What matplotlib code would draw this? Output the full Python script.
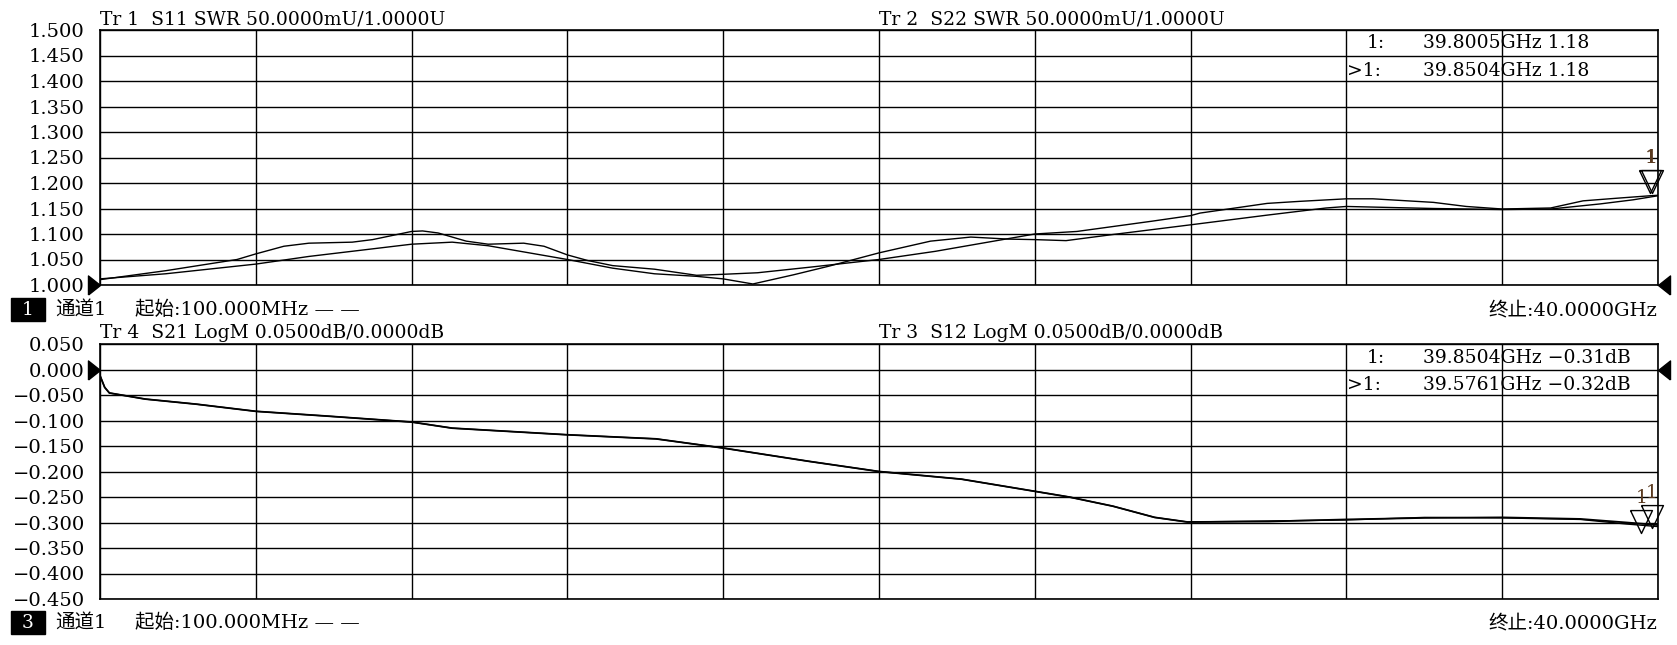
import matplotlib
matplotlib.use("Agg")
import matplotlib.pyplot as plt
from matplotlib.patches import Rectangle
import numpy as np

# --- CANVAS ---
W, H = 1677, 645
FONT = ["DejaVu Serif", "Noto Sans CJK SC"]
FS = 13.5

# --- DATA (frequency in GHz) ---
F_START, F_STOP = 0.1, 40.0

# Tr 1: S11 SWR
s11_f = [0.1, 1.78, 3.61, 4.09, 4.81, 5.45, 6.56, 7.08, 8.08, 8.36, 8.76, 9.48,
         10.04, 10.95, 11.47, 12.07, 12.59, 13.23, 14.30, 15.38, 16.06, 16.94,
         18.29, 20.05, 21.49, 22.84, 24.04, 25.12, 27.03, 28.03, 28.27, 29.99,
         30.82, 32.02, 32.70, 34.25, 35.09, 36.01, 37.25, 38.08, 38.92, 39.80, 40.0]
s11_v = [1.0105, 1.028, 1.050, 1.061, 1.076, 1.082, 1.084, 1.089, 1.105, 1.106,
         1.102, 1.086, 1.080, 1.082, 1.076, 1.059, 1.048, 1.038, 1.031, 1.019,
         1.021, 1.024, 1.035, 1.050, 1.066, 1.084, 1.100, 1.105, 1.125, 1.136,
         1.141, 1.160, 1.164, 1.169, 1.169, 1.162, 1.154, 1.149, 1.151, 1.165,
         1.170, 1.175, 1.176]

# Tr 2: S22 SWR
s22_f = [0.1, 1.78, 4.09, 5.45, 8.08, 9.12, 10.04, 12.07, 13.23, 14.30, 15.38,
         16.06, 16.82, 17.86, 18.77, 20.05, 21.37, 22.40, 23.36, 24.04, 24.84,
         26.04, 28.03, 29.99, 31.50, 32.02, 34.25, 36.01, 37.25, 38.52, 39.36, 40.0]
s22_v = [1.012, 1.022, 1.041, 1.056, 1.080, 1.084, 1.077, 1.050, 1.033, 1.022,
         1.017, 1.012, 1.002, 1.020, 1.037, 1.063, 1.086, 1.094, 1.090, 1.089,
         1.087, 1.099, 1.118, 1.137, 1.151, 1.154, 1.150, 1.148, 1.149, 1.159,
         1.167, 1.175]

# Tr 4 / Tr 3: S21, S12 LogM (dB)
s21_f = [0.1, 0.22, 0.34, 1.26, 2.57, 4.09, 5.85, 8.08, 9.12, 12.07, 14.34,
         16.06, 18.25, 20.05, 22.16, 24.92, 26.04, 27.11, 27.95, 30.03, 32.02,
         34.02, 36.01, 38.01, 39.20, 40.0]
s21_v = [-0.012, -0.035, -0.046, -0.058, -0.068, -0.082, -0.091, -0.103, -0.115,
         -0.128, -0.136, -0.154, -0.180, -0.200, -0.215, -0.250, -0.268, -0.290,
         -0.299, -0.298, -0.294, -0.291, -0.290, -0.293, -0.300, -0.305]
s12_v = [-0.012, -0.035, -0.046, -0.058, -0.068, -0.082, -0.091, -0.103, -0.115,
         -0.128, -0.136, -0.154, -0.180, -0.200, -0.215, -0.250, -0.268, -0.290,
         -0.299, -0.297, -0.295, -0.290, -0.291, -0.294, -0.303, -0.308]

# markers (freq GHz, value)
top_mk_f = [39.8005, 39.8504]
top_mk_v = [1.18, 1.18]
bot_mk_f = [39.8504, 39.5761]
bot_mk_v = [-0.31, -0.32]

# axis scales
top_ticks = [1.000, 1.050, 1.100, 1.150, 1.200, 1.250, 1.300, 1.350, 1.400, 1.450, 1.500]
bot_ticks = [-0.450, -0.400, -0.350, -0.300, -0.250, -0.200, -0.150, -0.100, -0.050, 0.000, 0.050]
top_ref = 1.000
bot_ref = 0.000

# --- TEXT ---
top_titles = ["Tr 1  S11 SWR 50.0000mU/1.0000U", "Tr 2  S22 SWR 50.0000mU/1.0000U"]
bot_titles = ["Tr 4  S21 LogM 0.0500dB/0.0000dB", "Tr 3  S12 LogM 0.0500dB/0.0000dB"]
top_readout = [("1:", "39.8005GHz 1.18"), (">1:", "39.8504GHz 1.18")]
bot_readout = [("1:", "39.8504GHz \u22120.31dB"), (">1:", "39.5761GHz \u22120.32dB")]


def fx(x):
    return x / W


def fy(y):
    return 1 - y / H


def ftext(fig, x, y, s, **kw):
    kw.setdefault("ha", "left")
    kw.setdefault("fontsize", FS)
    fig.text(fx(x), fy(y), s, family=FONT, va="center", **kw)


def fmt_tick(v):
    return f"{v:.3f}".replace("-", "\u2212")


def setup_axes(ax, ticks, ref):
    ax.set_xlim(F_START, F_STOP)
    ax.set_ylim(ticks[0], ticks[-1])
    ax.set_xticks(np.linspace(F_START, F_STOP, 11))
    ax.set_xticklabels([])
    ax.set_yticks(ticks)
    ax.set_yticklabels([fmt_tick(t) for t in ticks], family=FONT, fontsize=14)
    ax.tick_params(length=0, pad=11)
    ax.grid(True, color="black", lw=1.0)
    for sp in ax.spines.values():
        sp.set_color("black")
        sp.set_linewidth(1.2)
    # reference level arrows at both edges
    ax.plot([0], [ref], transform=ax.get_yaxis_transform(), clip_on=False,
            marker=[(-12, -9.5), (-12, 9.5), (0, 0), (-12, -9.5)],
            ms=17.3, color="black", mec="black", zorder=5)
    ax.plot([1], [ref], transform=ax.get_yaxis_transform(), clip_on=False,
            marker=[(12, -9.5), (12, 9.5), (0, 0), (12, -9.5)],
            ms=17.3, color="black", mec="black", zorder=5)


def draw_markers(ax, fs, vs):
    tri = [(-11, 23), (11, 23), (0, 0), (-11, 23)]
    for f, v in zip(fs, vs):
        ax.plot([f], [v], marker=tri, ms=33, mfc="none", mec="black",
                mew=1.0, clip_on=False, zorder=6)
        ax.annotate("1", (f, v), xytext=(0, 25), textcoords="offset points",
                    ha="center", va="center", family=FONT, fontsize=FS,
                    color="#5a3a20", annotation_clip=False)


def main():
    fig = plt.figure(figsize=(W / 100, H / 100), dpi=100, facecolor="white")

    ax1 = fig.add_axes([fx(100), fy(285), (1658 - 100) / W, 255 / H])
    ax2 = fig.add_axes([fx(100), fy(599), (1658 - 100) / W, 255 / H])

    setup_axes(ax1, top_ticks, top_ref)
    setup_axes(ax2, bot_ticks, bot_ref)

    ax1.plot(s11_f, s11_v, color="black", lw=1.0, zorder=4)
    ax1.plot(s22_f, s22_v, color="black", lw=1.0, zorder=4)
    ax2.plot(s21_f, s21_v, color="black", lw=1.3, zorder=4)
    ax2.plot(s21_f, s12_v, color="black", lw=1.0, zorder=4)

    draw_markers(ax1, top_mk_f, top_mk_v)
    draw_markers(ax2, bot_mk_f, bot_mk_v)

    # trace titles
    ftext(fig, 100, 19, top_titles[0])
    ftext(fig, 879, 19, top_titles[1])
    ftext(fig, 100, 333, bot_titles[0])
    ftext(fig, 879, 333, bot_titles[1])

    # marker readouts
    for (lab, val), y in zip(top_readout, [43, 71]):
        ftext(fig, 1367 if lab == "1:" else 1347, y, lab)
        ftext(fig, 1423, y, val)
    for (lab, val), y in zip(bot_readout, [358, 385]):
        ftext(fig, 1367 if lab == "1:" else 1347, y, lab)
        ftext(fig, 1423, y, val)

    # channel status lines
    for num, y in [("1", 310), ("3", 623)]:
        fig.patches.append(Rectangle((fx(11), fy(y + 11)), 34 / W, 23 / H,
                                     transform=fig.transFigure, color="black"))
        ftext(fig, 28, y, num, ha="center", color="white")
        ftext(fig, 55, y, "通道1", fontsize=14)
        ftext(fig, 135, y, "起始:100.000MHz — —", fontsize=14)
        ftext(fig, 1657, y, "终止:40.0000GHz", ha="right", fontsize=14)

    fig.savefig("out.png", dpi=100, facecolor="white")


if __name__ == "__main__":
    main()
